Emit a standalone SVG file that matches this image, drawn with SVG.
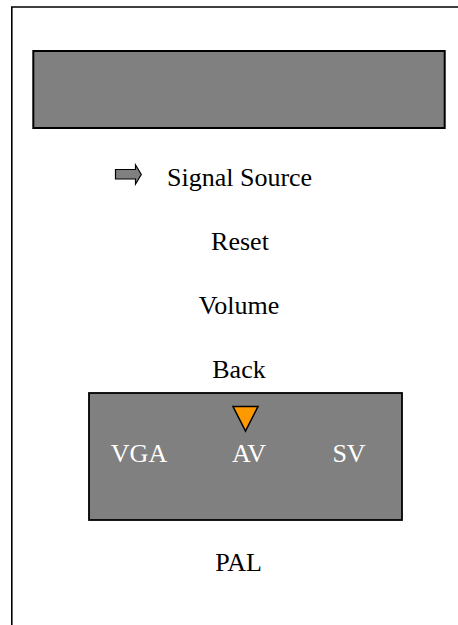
<svg xmlns="http://www.w3.org/2000/svg" width="458" height="625" viewBox="0 0 458 625">
<style>
.t{font-family:'Liberation Serif',Tinos,'Times New Roman','DejaVu Serif',serif;font-size:26px;fill:#000;text-anchor:middle}
.w{fill:#fff}
.box{fill:#808080;stroke:#000;stroke-width:2}
</style>
<rect width="458" height="625" fill="#fff"/>
<g id="frame">
<polyline points="11.8,625 11.8,7 458,7" fill="none" stroke="#000" stroke-width="1.6"/>
</g>
<g id="display">
<rect class="box" x="33.3" y="51" width="411.4" height="77"/>
</g>
<g id="menu">
<g id="signal-source">
<polygon points="115.5,169.5 135.5,169.5 135.5,164.8 141.3,174.5 135.5,184.2 135.5,179 115.5,179" fill="#808080" stroke="#000" stroke-width="1.2"/>
<text x="167" y="186" class="t" style="text-anchor:start">Signal Source</text>
</g>
<g id="reset"><text x="240" y="250" class="t">Reset</text></g>
<g id="volume"><text x="239" y="314" class="t">Volume</text></g>
<g id="back"><text x="239" y="378" class="t">Back</text></g>
</g>
<g id="source-box">
<rect class="box" x="89" y="393" width="313" height="127" style="stroke-width:1.8"/>
<polygon points="233,406.5 258,406.5 245.5,431" fill="#FF9900" stroke="#000" stroke-width="1.5" stroke-linejoin="miter"/>
<text x="139" y="462" class="t w">VGA</text>
<text x="249" y="462" class="t w">AV</text>
<text x="349" y="462" class="t w">SV</text>
</g>
<g id="pal"><text x="238.5" y="571" class="t">PAL</text></g>
</svg>
